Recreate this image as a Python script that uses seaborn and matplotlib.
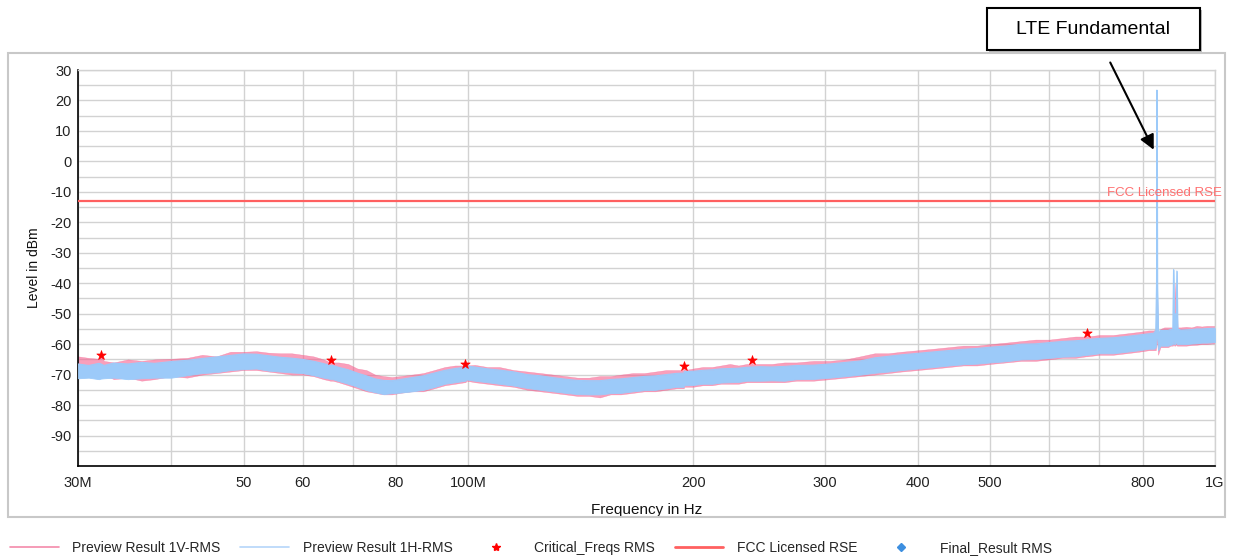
import matplotlib.pyplot as plt
import matplotlib.ticker as mticker
from matplotlib.lines import Line2D
from matplotlib.patches import Rectangle
import numpy as np
import seaborn as sns

# 频率点 (MHz)
freq_mhz = [
    30, 31, 32, 32.2, 32.5, 33.5, 35, 36.5, 38, 40,
    42, 44, 46, 48, 50, 52, 54, 56, 58, 60,
    62, 64, 65.3, 65.5, 65.8, 67, 69, 71, 73, 75,
    77, 79, 81, 84, 87, 90, 93, 96, 98.9, 99.1,
    99.4, 102, 106, 110, 115, 120, 125, 130, 135, 140,
    145, 150, 155, 160, 166, 172, 178, 184, 190, 194.3,
    194.6, 195, 200, 206, 212, 218, 224, 230, 236, 239.3,
    239.6, 240, 246, 255, 265, 275, 290, 305, 320, 335,
    350, 365, 380, 400, 420, 440, 460, 480, 500, 525,
    550, 575, 600, 625, 650, 672, 673, 674, 700, 730,
    760, 790, 815, 828, 833, 835, 836, 837, 839, 845,
    855, 865, 872, 878, 880, 882, 884.5, 887, 889, 891,
    900, 915, 930, 945, 960, 975, 990, 1000,
]

# Preview Result 1H-RMS 包络 (dBm)
blue_lo = [
    -71.2, -71, -71.5, -71.3, -71.2, -71, -71.5, -71.2, -71, -71,
    -70.2, -69.5, -69.2, -68.5, -68.2, -68, -68.7, -69, -69.3, -69.5,
    -70.2, -71, -71.4, -71.5, -71.5, -72.1, -73, -74, -75.1, -75.8,
    -76.4, -76.1, -75.9, -75.5, -75, -74.1, -73, -72.5, -72, -72,
    -71.6, -72, -72.5, -73, -73.6, -74.4, -75, -75.5, -76, -76.4,
    -76.5, -76.5, -76.1, -76, -75.5, -75.1, -75, -74.5, -74, -74,
    -73.5, -73.5, -73.4, -73, -73, -72.6, -72.5, -72.4, -72, -72,
    -72, -72, -72, -71.9, -72, -71.5, -71.4, -71, -70.5, -70,
    -69.4, -69, -68.5, -68, -67.5, -67, -66.6, -66.4, -66, -65.6,
    -65, -64.9, -64.5, -64.1, -64, -63.5, -63.5, -63.5, -63, -63,
    -62.5, -62, -61.5, -61.5, -61, -58, -50, -58, -62, -60.5,
    -60.5, -60.5, -60.2, -60, -59, -60, -60, -59, -60, -60,
    -60, -60, -59.8, -59.7, -59.5, -59.5, -59.4, -59.3,
]
blue_hi = [
    -66.5, -67, -66.3, -66.5, -67, -66.2, -66.5, -66, -66.3, -65.7,
    -65.3, -64.7, -64.2, -63.7, -63.2, -63.3, -63.8, -64.3, -64.6, -65,
    -65.6, -66.4, -67, -67, -67, -67.6, -68.4, -69.5, -70.4, -71.4,
    -71.9, -72, -71.6, -71, -70.4, -69.5, -68.6, -68, -67.6, -67.5,
    -67.2, -67.5, -68.1, -68.5, -69.1, -70, -70.4, -71, -71.5, -71.9,
    -72, -72, -71.6, -71.4, -71, -70.6, -70.4, -70, -69.6, -69.5,
    -69, -69, -68.9, -68.6, -68.4, -68.1, -68, -67.9, -67.6, -67.5,
    -67.5, -67.5, -67.4, -67.5, -67.3, -67, -66.9, -66.5, -66, -65.5,
    -64.5, -64, -63.5, -63, -62.5, -62.1, -61.7, -61.4, -61, -60.6,
    -60, -59.9, -59.5, -59.1, -58.9, -58.6, -58.5, -58.5, -58.1, -57.9,
    -57.5, -57, -56.6, -56.4, -55.5, -40, 23.4, -40, -56, -55.5,
    -55.5, -55.5, -55.2, -55, -35.5, -55, -50, -55, -36, -55,
    -55.4, -55.3, -55.2, -55, -55, -54.9, -54.8, -54.8,
]

# Preview Result 1V-RMS 包络 (dBm)
pink_lo = [
    -69, -69.5, -69, -70, -70, -71.5, -71, -72, -71.5, -70.5,
    -71, -70, -69.5, -69, -68.5, -68.5, -69, -69.5, -70, -70,
    -70.5, -71.5, -72, -72, -72, -72.5, -73.5, -74.5, -75.5, -76,
    -76.5, -76.5, -76, -75.5, -75.5, -74.5, -73.5, -73, -72.5, -72.5,
    -72, -72.5, -73, -73.5, -74, -75, -75.5, -76, -76.5, -77,
    -77, -77.5, -76.5, -76.5, -76, -75.5, -75.5, -75, -74.5, -74.5,
    -74, -74, -74, -73.5, -73.5, -73, -73, -73, -72.5, -72.5,
    -72.5, -72.5, -72.5, -72.5, -72.5, -72, -72, -71.5, -71, -70.5,
    -70, -69.5, -69, -68.5, -68, -67.5, -67, -67, -66.5, -66,
    -65.5, -65.5, -65, -64.5, -64.5, -64, -64, -64, -63.5, -63.5,
    -63, -62.5, -62, -62, -62, -60, -58, -60, -63.5, -61,
    -61, -61, -60.5, -60.5, -60, -60.5, -60.5, -60, -60.5, -60.5,
    -60.5, -60.5, -60.3, -60.2, -60, -60, -59.8, -59.8,
]
pink_hi = [
    -64, -64.5, -64.8, -63.5, -65.5, -66, -65, -65.5, -65, -64.8,
    -64.5, -63.5, -64, -62.5, -62.5, -62.3, -62.8, -63, -63, -63.5,
    -64, -65, -66, -65.1, -66, -66, -66.5, -68, -68.5, -70,
    -70.5, -70.8, -70.5, -70, -69.5, -68.5, -67.5, -67, -67, -66.5,
    -67, -66.8, -67.5, -67.5, -68.5, -69, -69.5, -70, -70.5, -71,
    -71, -70.5, -70.5, -70, -69.5, -69.5, -69, -68.5, -68.5, -68.5,
    -67.3, -68.5, -68, -67.5, -67.5, -67, -66.5, -67, -66.5, -66.5,
    -65.1, -66.5, -66.5, -66.5, -66, -66, -65.5, -65.5, -65, -64,
    -63, -63, -62.5, -62, -61.5, -61, -60.5, -60.5, -60, -59.5,
    -59, -58.5, -58.5, -58, -57.5, -57.5, -56.3, -57.5, -57, -57,
    -56.5, -56, -55.5, -55.5, -55, -38, -25, -45, -57, -55,
    -54.5, -54.5, -54.5, -54.5, -48, -54.5, -40, -54.5, -47, -54.5,
    -54.5, -54.3, -54.5, -54, -54.2, -54, -54, -54,
]

# Critical_Freqs RMS
crit_freq_mhz = [32.2, 65.5, 99.1, 194.6, 239.6, 673]
crit_level = [-63.4, -65.1, -66.5, -67.3, -65.1, -56.3]

# FCC Licensed RSE 限值
fcc_limit = -13

freq_hz = np.array(freq_mhz) * 1e6
crit_hz = np.array(crit_freq_mhz) * 1e6

PINK = "#f5608f"
BLUE = "#9ccaf9"
LIMIT = "#ff6060"

sns.set_style("whitegrid")
plt.rcParams['font.family'] = ['Liberation Sans', 'DejaVu Sans']

W, H = 1236, 558
fig = plt.figure(figsize=(W / 100, H / 100), dpi=100)
ax = fig.add_axes([78 / W, 92 / H, 1137 / W, 396 / H])

# 外框
fig.add_artist(Rectangle((8 / W, 41 / H), 1217 / W, 464 / H, transform=fig.transFigure,
                         fill=False, edgecolor="#c8c8c8", lw=1.5))

# 曲线 (先画1V, 再叠加1H)
ax.fill_between(freq_hz, pink_lo, pink_hi, color=PINK, alpha=0.6, lw=0.3,
                edgecolor=PINK, zorder=2)
ax.fill_between(freq_hz, blue_lo, blue_hi, color=BLUE, alpha=1, lw=0.6,
                edgecolor=BLUE, zorder=3)
sns.lineplot(x=freq_hz, y=blue_hi, ax=ax, color=BLUE, lw=0.8, sort=False,
             estimator=None, zorder=3)
ax.axhline(fcc_limit, color=LIMIT, lw=1.6, zorder=4)
sns.scatterplot(x=crit_hz, y=crit_level, ax=ax, marker="*", s=50, color="red",
                edgecolor="red", linewidth=0.5, zorder=5, legend=False)

# 坐标轴
ax.set_xscale("log")
ax.set_xlim(30e6, 1e9)
ax.set_ylim(-100, 30)
xt = [30, 40, 50, 60, 70, 80, 100, 200, 300, 400, 500, 600, 700, 800, 1000]
xl = ["30M", "", "50", "60", "", "80", "100M", "200", "300", "400", "500", "", "", "800", "1G"]
ax.xaxis.set_major_locator(mticker.FixedLocator([v * 1e6 for v in xt]))
ax.xaxis.set_major_formatter(mticker.FixedFormatter(xl))
ax.xaxis.set_minor_locator(mticker.NullLocator())
ax.yaxis.set_major_locator(mticker.MultipleLocator(10))
ax.yaxis.set_minor_locator(mticker.MultipleLocator(5))
ax.yaxis.set_major_formatter(mticker.FuncFormatter(lambda v, p: "" if v <= -100 else f"{v:.0f}"))

ax.grid(True, which="major", axis="x", color="#d2d2d2", lw=1)
ax.grid(True, which="both", axis="y", color="#d2d2d2", lw=1)
ax.set_axisbelow(True)
ax.tick_params(axis="both", which="major", direction="inout", length=7, width=1,
               color="black", labelsize=10.5, labelcolor="#222222")
ax.tick_params(axis="x", which="major", pad=4)
ax.tick_params(axis="y", which="major", pad=1)
ax.tick_params(axis="y", which="minor", direction="inout", length=5, width=1, color="black")
for s in ["left", "bottom"]:
    ax.spines[s].set_color("black")
    ax.spines[s].set_linewidth(1.2)
for s in ["top", "right"]:
    ax.spines[s].set_color("#d2d2d2")
    ax.spines[s].set_linewidth(1)

ax.set_xlabel("Frequency in Hz", fontsize=11, labelpad=9, color="#111111")
ax.set_ylabel("Level in dBm", fontsize=10, labelpad=7, color="#111111")

# 限值标注
fig.text(1222 / W, 1 - 193 / H, "FCC Licensed RSE", ha="right", va="center",
         fontsize=9.5, color="#ff7070")

# LTE Fundamental 标注框
fig.add_artist(Rectangle((989 / W, 1 - 52 / H), 213 / W, 42 / H, transform=fig.transFigure,
                         facecolor="#bbbbbb", edgecolor="none", zorder=9))
fig.add_artist(Rectangle((987 / W, 1 - 50 / H), 213 / W, 42 / H, transform=fig.transFigure,
                         facecolor="white", edgecolor="black", lw=1.5, zorder=10))
fig.text(1093 / W, 1 - 29 / H, "LTE Fundamental", ha="center", va="center",
         fontsize=14, color="black", zorder=11)
ax.annotate("", xy=(831e6, 3), xycoords="data",
            xytext=(1109 / W, 1 - 60 / H), textcoords="figure fraction",
            arrowprops=dict(arrowstyle="-|>", color="black", lw=1.5, mutation_scale=22),
            annotation_clip=False, zorder=12)

# 图例
handles = [
    Line2D([0], [0], color="#f48aaa", lw=1.2),
    Line2D([0], [0], color="#b5d6fa", lw=1.2),
    Line2D([0], [0], marker="*", color="red", linestyle="None", markersize=6),
    Line2D([0], [0], color=LIMIT, lw=2),
    Line2D([0], [0], marker="D", color="#3d8fe0", linestyle="None", markersize=4),
]
labels = ["Preview Result 1V-RMS", "Preview Result 1H-RMS", "Critical_Freqs RMS",
          "FCC Licensed RSE", "Final_Result RMS"]
fig.legend(handles, labels, loc="center left", bbox_to_anchor=(10 / W, 1 - 548 / H),
           ncol=5, frameon=False, fontsize=10, handlelength=3.5, handletextpad=1.0,
           columnspacing=1.4, borderpad=0, borderaxespad=0)

fig.savefig("out.png", dpi=100, facecolor="white")
